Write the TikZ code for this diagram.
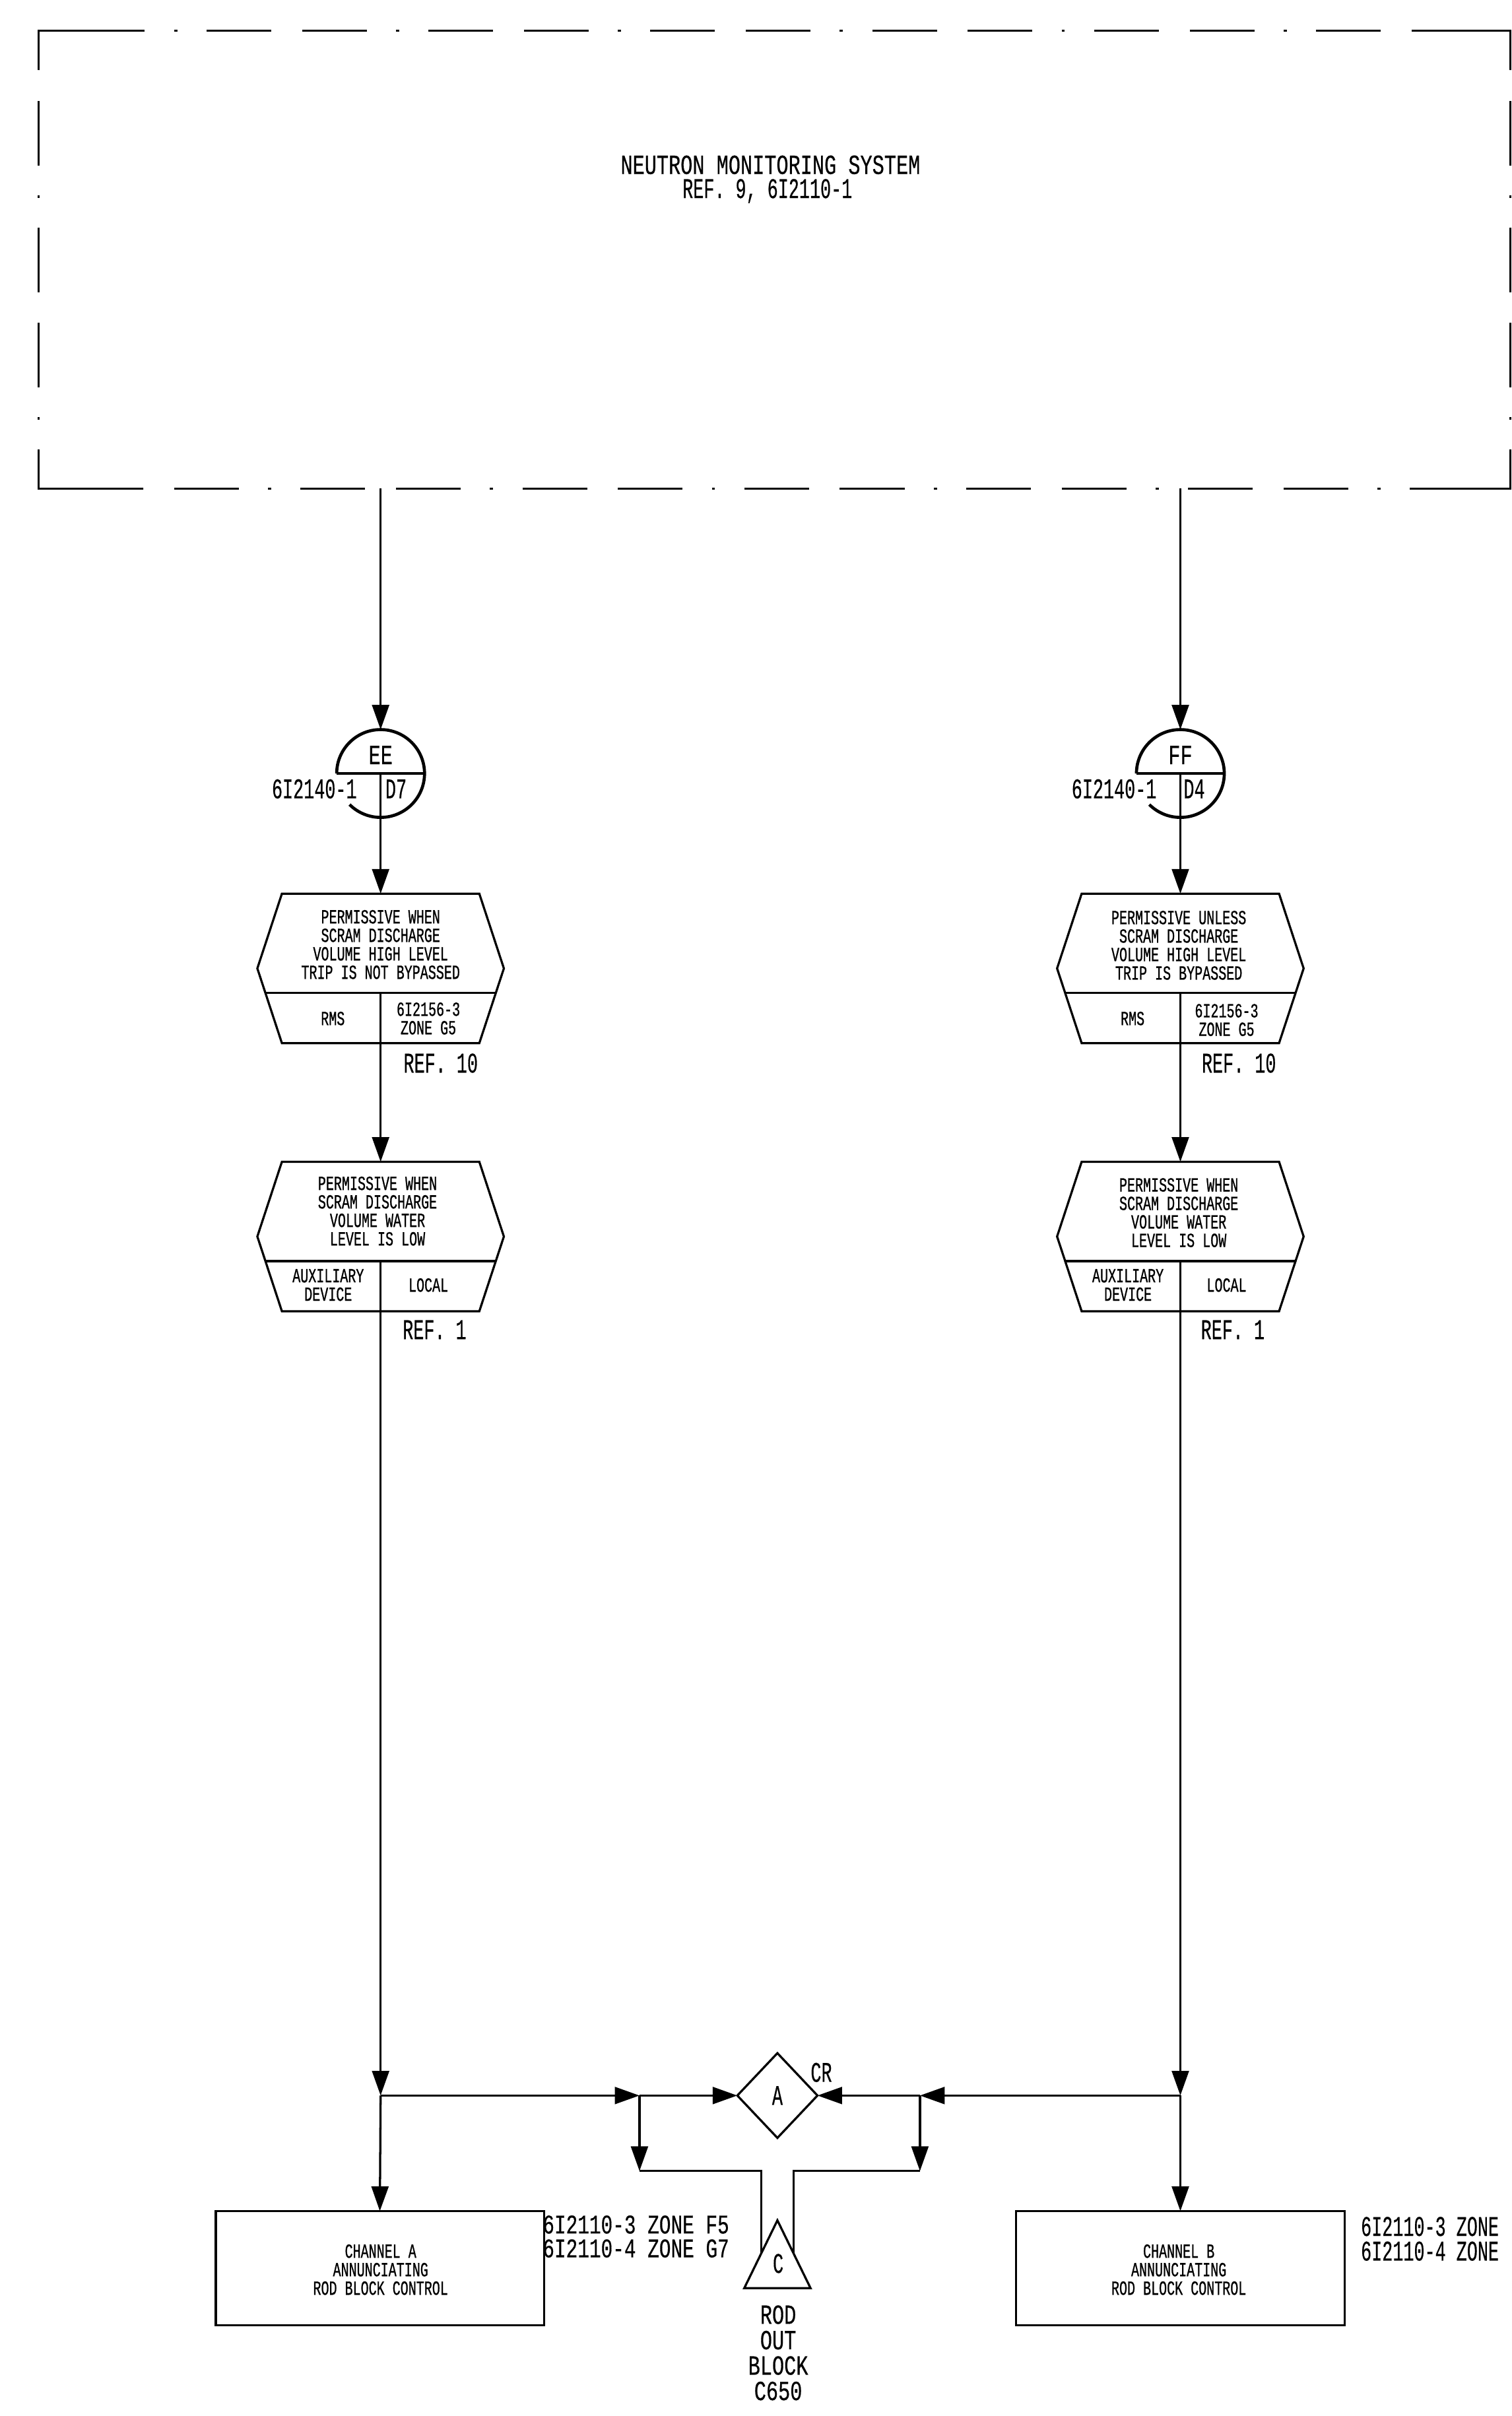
\documentclass[tikz,border=0pt]{standalone}
\usepackage{fontspec}
\usepackage{tikz}
\usetikzlibrary{positioning, shapes.geometric, shapes.symbols, arrows.meta}

\newfontfamily\cadfont[FakeStretch=0.72, FakeBold=0.4]{Liberation Mono}
\newfontfamily\cadnarrow[FakeStretch=0.62, FakeBold=0.4]{Liberation Mono}
\newfontfamily\cadsmall[FakeStretch=0.66, FakeBold=0.8]{Liberation Mono}

\tikzset{
    >={Triangle[length=16pt, width=11pt]},
    wire/.style={line width=1.4pt},
    bigtext/.style={font=\cadfont\fontsize{18}{16}\selectfont, align=center, inner sep=0pt},
    midtext/.style={font=\cadnarrow\fontsize{18.5}{16}\selectfont, align=center, inner sep=0pt},
    smalltext/.style={font=\cadsmall\fontsize{13}{12}\selectfont, align=center, inner sep=0pt},
    hexbox/.style={shape=signal, signal to=west and east, signal pointer angle=143.6, draw, wire, minimum width=160pt, minimum height=97pt, inner sep=0pt, outer sep=0pt},
    portmark/.style={circle, minimum size=57pt, inner sep=0pt, outer sep=0pt},
    blockbox/.style={rectangle, draw, wire, minimum width=213pt, minimum height=74pt, inner sep=0pt, outer sep=0pt},
    dashframe/.style={wire, dash pattern=on 42pt off 19pt on 2pt off 19pt on 42pt off 20pt, dash phase=124pt}
}

\begin{document}
\begin{tikzpicture}[x=1pt, y=-1pt]
            \useasboundingbox (0, 0) rectangle (981, 1568);

            \node [rectangle, minimum width=955pt, minimum height=297pt, inner sep=0pt, outer sep=0pt] (nms) at (502.5, 168.5) {};
            \node [bigtext] (nms_label) at (500, 107) {NEUTRON MONITORING SYSTEM};
            \node [midtext] (nms_ref) at (498, 124) {REF. 9, 6I2110-1};

            \draw [wire] (94, 20) -- (25, 20) -- (25, 45.6);
            \draw [wire] (931, 20) -- (980, 20) -- (980, 45.6);
            \draw [wire] (25, 292) -- (25, 317) -- (93, 317);
            \draw [wire] (980, 292) -- (980, 317) -- (931, 317);
            \draw [dashframe, dash phase=42pt] (94, 20) -- (931, 20);
            \draw [dashframe] (93, 317) -- (931, 317);
            \draw [dashframe] (25, 45.6) -- (25, 292);
            \draw [dashframe] (980, 45.6) -- (980, 292);

            \node [portmark] (port_a) at (247, 502) {};
            \node [bigtext] (port_a_top) at (247, 490) {EE};
            \node [midtext] (port_a_zone) at (257, 512) {D7};
            \node [midtext] (port_a_sheet) at (204, 512) {6I2140-1};
            \node [portmark] (port_b) at (766, 502) {};
            \node [bigtext] (port_b_top) at (766, 490) {FF};
            \node [midtext] (port_b_zone) at (775, 512) {D4};
            \node [midtext] (port_b_sheet) at (723, 512) {6I2140-1};

            \draw [line width=2pt] (port_a.west) arc [start angle=180, end angle=-135, radius=28.5pt];
            \draw [wire] (port_a.west) -- (port_a.east);
            \draw [wire] (port_a.center) -- (port_a.south);
            \draw [line width=2pt] (port_b.west) arc [start angle=180, end angle=-135, radius=28.5pt];
            \draw [wire] (port_b.west) -- (port_b.east);
            \draw [wire] (port_b.center) -- (port_b.south);

            \node [hexbox] (high_a) at (247, 628.5) {};
            \node [smalltext] (high_a_text) at (247, 613) {PERMISSIVE WHEN\\SCRAM DISCHARGE\\VOLUME HIGH LEVEL\\TRIP IS NOT BYPASSED};
            \node [smalltext] (high_a_rms) at (216, 661) {RMS};
            \node [smalltext] (high_a_zone) at (278, 661) {6I2156-3\\ZONE G5};
            \node [midtext] (high_a_ref) at (286, 690) {REF. 10};
            \coordinate (high_a_mid) at (247, 644.5);
            \draw [wire] (172, 644.5) -- (322, 644.5);

            \node [hexbox] (high_b) at (766, 628.5) {};
            \node [smalltext] (high_b_text) at (765, 613.5) {PERMISSIVE UNLESS\\SCRAM DISCHARGE\\VOLUME HIGH LEVEL\\TRIP IS BYPASSED};
            \node [smalltext] (high_b_rms) at (735, 661) {RMS};
            \node [smalltext] (high_b_zone) at (796, 662) {6I2156-3\\ZONE G5};
            \node [midtext] (high_b_ref) at (804, 690) {REF. 10};
            \coordinate (high_b_mid) at (766, 644.5);
            \draw [wire] (691, 644.5) -- (841, 644.5);

            \node [hexbox] (low_a) at (247, 802.5) {};
            \node [smalltext] (low_a_text) at (245, 786) {PERMISSIVE WHEN\\SCRAM DISCHARGE\\VOLUME WATER\\LEVEL IS LOW};
            \node [smalltext] (low_a_aux) at (213, 834) {AUXILIARY\\DEVICE};
            \node [smalltext] (low_a_local) at (278, 834) {LOCAL};
            \node [midtext] (low_a_ref) at (282, 863) {REF. 1};
            \coordinate (low_a_mid) at (247, 818.5);
            \draw [wire] (172, 818.5) -- (322, 818.5);

            \node [hexbox] (low_b) at (766, 802.5) {};
            \node [smalltext] (low_b_text) at (765, 787) {PERMISSIVE WHEN\\SCRAM DISCHARGE\\VOLUME WATER\\LEVEL IS LOW};
            \node [smalltext] (low_b_aux) at (732, 834) {AUXILIARY\\DEVICE};
            \node [smalltext] (low_b_local) at (796, 834) {LOCAL};
            \node [midtext] (low_b_ref) at (800, 863) {REF. 1};
            \coordinate (low_b_mid) at (766, 818.5);
            \draw [wire] (691, 818.5) -- (841, 818.5);

            \coordinate (junction_a) at (247, 1360);
            \coordinate (junction_b) at (766, 1360);
            \coordinate (split_a) at (415, 1360);
            \coordinate (split_b) at (597, 1360);
            \coordinate (tee_a) at (415, 1409);
            \coordinate (tee_b) at (597, 1409);
            \coordinate (stem_a) at (494, 1409);
            \coordinate (stem_b) at (515, 1409);
            \coordinate (stem_a_end) at (494, 1462.5);
            \coordinate (stem_b_end) at (515, 1462.5);
            \coordinate (apex) at (504.5, 1441);
            \coordinate (base_a) at (483, 1485);
            \coordinate (base_b) at (526, 1485);

            \node [diamond, draw, wire, minimum width=52pt, minimum height=55pt, inner sep=0pt, outer sep=0pt, font=\cadnarrow\fontsize{18.5}{16}\selectfont] (cr) at (504.5, 1360) {A};
            \node [midtext] (cr_label) at (533, 1345) {CR};
            \node [midtext] (rob_mark) at (505, 1469) {C};
            \node [bigtext, font=\cadfont\fontsize{18}{16.5}\selectfont] (rob_label) at (505, 1527) {ROD\\OUT\\BLOCK\\C650};

            \node [blockbox] (channel_a) at (246.5, 1472) {};
            \node [smalltext] (channel_a_text) at (247, 1473) {CHANNEL A\\ANNUNCIATING\\ROD BLOCK CONTROL};
            \node [blockbox] (channel_b) at (766, 1472) {};
            \node [smalltext] (channel_b_text) at (765, 1473) {CHANNEL B\\ANNUNCIATING\\ROD BLOCK CONTROL};
            \node [bigtext, font=\cadfont\fontsize{17.5}{15.5}\selectfont, anchor=west, align=left] (channel_a_ref) at (352, 1451.5) {6I2110-3 ZONE F5\\6I2110-4 ZONE G7};
            \node [midtext, anchor=west, align=left] (channel_b_ref) at (883, 1453) {6I2110-3 ZONE\\6I2110-4 ZONE};

            \draw [wire, ->] (nms.south -| port_a) -- (port_a.north);
            \draw [wire, ->] (nms.south -| port_b) -- (port_b.north);
            \draw [wire, ->] (port_a.south) -- (high_a.north);
            \draw [wire, ->] (port_b.south) -- (high_b.north);
            \draw [wire] (high_a_mid) -- (high_a.south);
            \draw [wire] (high_b_mid) -- (high_b.south);
            \draw [wire, ->] (high_a.south) -- (low_a.north);
            \draw [wire, ->] (high_b.south) -- (low_b.north);
            \draw [wire] (low_a_mid) -- (low_a.south);
            \draw [wire] (low_b_mid) -- (low_b.south);
            \draw [wire, ->] (low_a.south) -- (junction_a);
            \draw [wire, ->] (low_b.south) -- (junction_b);
            \draw [wire, ->] (junction_a) -- (channel_a.north);
            \draw [wire, ->] (junction_b) -- (channel_b.north);
            \draw [wire, ->] (junction_a) -- (split_a);
            \draw [wire, ->] (junction_b) -- (split_b);
            \draw [wire, ->] (split_a) -- (cr.west);
            \draw [wire, ->] (split_b) -- (cr.east);
            \draw [wire, ->] (split_a) -- (tee_a);
            \draw [wire, ->] (split_b) -- (tee_b);
            \draw [wire] (tee_a) -- (stem_a) -- (stem_a_end);
            \draw [wire] (tee_b) -- (stem_b) -- (stem_b_end);
            \draw [wire] (apex) -- (base_a) -- (base_b) -- cycle;
        \end{tikzpicture}
\end{document}
